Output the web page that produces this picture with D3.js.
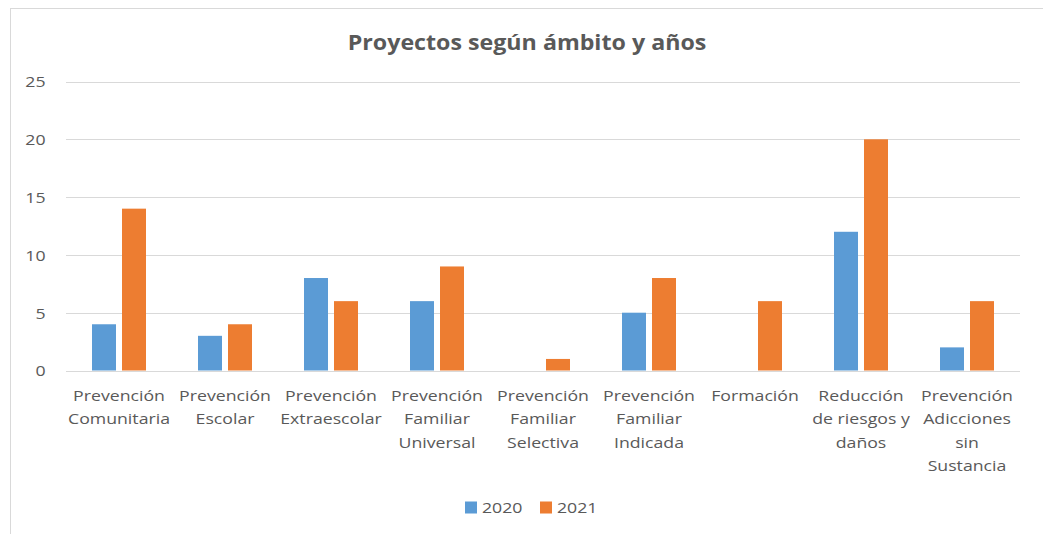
<!DOCTYPE html>
<html>
<head>
<meta charset="utf-8">
<script src="https://cdn.jsdelivr.net/npm/d3@7"></script>
<style>
  html, body { margin: 0; padding: 0; background: #fff; }
  svg { display: block; }
  text { font-family: "Open Sans", sans-serif; fill: #595959; }
</style>
</head>
<body>
<svg id="chart" width="1043" height="534"></svg>
<script>
// Category labels (each entry is a list of wrapped lines)
const categories = [
  ["Prevención", "Comunitaria"],
  ["Prevención", "Escolar"],
  ["Prevención", "Extraescolar"],
  ["Prevención", "Familiar", "Universal"],
  ["Prevención", "Familiar", "Selectiva"],
  ["Prevención", "Familiar", "Indicada"],
  ["Formación"],
  ["Reducción", "de riesgos y", "daños"],
  ["Prevención", "Adicciones", "sin", "Sustancia"]
];
const seriesNames = ["2020", "2021"];
const values2020 = [4, 3, 8, 6, 0, 5, 0, 12, 2];
const values2021 = [14, 4, 6, 9, 1, 8, 6, 20, 6];
const yTicks = [0, 5, 10, 15, 20, 25];
const colors = ["#5b9bd5", "#ed7d31"];
const title = "Proyectos según ámbito y años";

const svg = d3.select("#chart");
const W = 1043, H = 534;
const FS = 15;       // body font size
const SX = 1.18;     // horizontal stretch of the body text

// Chart frame (only top and left edges fall inside the view)
svg.append("rect")
  .attr("x", 10.5).attr("y", 8.5)
  .attr("width", W + 20).attr("height", H + 20)
  .attr("fill", "#fff")
  .attr("stroke", "#d9d9d9").attr("stroke-width", 1);

const plot = { left: 66, right: 1020, top: 81.5, bottom: 370.5 };

const x = d3.scaleBand()
  .domain(d3.range(categories.length))
  .range([plot.left, plot.right])
  .paddingInner(0).paddingOuter(0);

const y = d3.scaleLinear()
  .domain([0, 25])
  .range([plot.bottom, plot.top]);

// Gridlines
svg.append("g")
  .selectAll("line")
  .data(yTicks)
  .join("line")
  .attr("x1", plot.left).attr("x2", plot.right)
  .attr("y1", d => Math.round(y(d)) + 0.5)
  .attr("y2", d => Math.round(y(d)) + 0.5)
  .attr("stroke", "#d9d9d9").attr("stroke-width", 1);

// Y axis labels
const yAxis = d3.axisLeft(y).tickValues(yTicks).tickSize(0).tickPadding(0);
const yG = svg.append("g")
  .attr("transform", `translate(45.5,0)`)
  .call(yAxis);
yG.select(".domain").remove();
yG.selectAll("text")
  .attr("font-size", FS)
  .attr("font-family", "Open Sans, sans-serif")
  .attr("fill", "#595959")
  .attr("x", 0)
  .attr("dy", "0.36em")
  .attr("transform", `scale(${SX},1)`);

// Bars, two per category, side by side
const barW = 24, gap = 6;
const groupW = barW * 2 + gap;
const series = [values2020, values2021];
series.forEach((vals, si) => {
  svg.append("g")
    .selectAll("rect")
    .data(vals.map((v, i) => ({ v, i })).filter(d => d.v > 0))
    .join("rect")
    .attr("x", d => x(d.i) + x.bandwidth() / 2 - groupW / 2 + si * (barW + gap))
    .attr("y", d => y(d.v))
    .attr("width", barW)
    .attr("height", d => y(0) - y(d.v))
    .attr("fill", colors[si]);
});

// X labels
const lineH = 23.4;
const xl = svg.append("g");
categories.forEach((lines, i) => {
  const cx = x(i) + x.bandwidth() / 2;
  lines.forEach((ln, k) => {
    xl.append("text")
      .attr("text-anchor", "middle")
      .attr("font-size", FS)
      .attr("transform", `translate(${cx},${401 + k * lineH}) scale(${SX},1)`)
      .text(ln);
  });
});

// Title
svg.append("text")
  .attr("text-anchor", "middle")
  .attr("font-size", 21.5)
  .attr("font-weight", "bold")
  .attr("transform", `translate(527,50) scale(1.08,1)`)
  .text(title);

// Legend
const legend = svg.append("g");
const legX = [465, 540];
seriesNames.forEach((name, i) => {
  const lx = legX[i];
  legend.append("rect")
    .attr("x", lx).attr("y", 501.5)
    .attr("width", 12).attr("height", 12)
    .attr("fill", colors[i]);
  legend.append("text")
    .attr("font-size", FS)
    .attr("transform", `translate(${lx + 17},513.3) scale(${SX},1)`)
    .text(name);
});
</script>
</body>
</html>
